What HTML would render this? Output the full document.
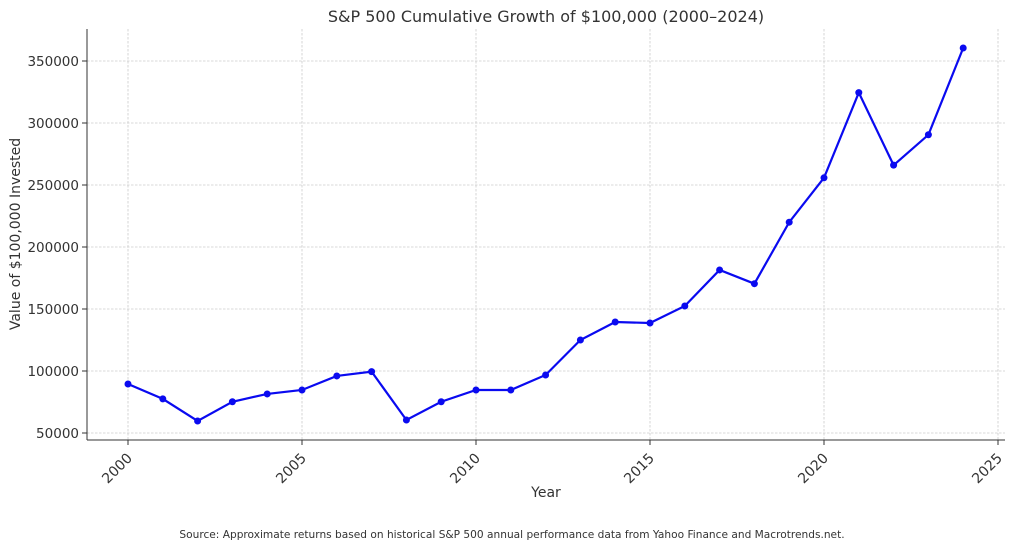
<!DOCTYPE html>
<html><head><meta charset="utf-8"><style>
body{margin:0;background:#fff;}
svg{display:block;font-family:"DejaVu Sans","Liberation Sans",sans-serif;}
</style></head><body>
<svg id="chart" width="1024" height="549" viewBox="0 0 1024 549" xmlns="http://www.w3.org/2000/svg">
<text x="546" y="22" text-anchor="middle" font-size="16" fill="#333">S&amp;P 500 Cumulative Growth of $100,000 (2000–2024)</text>
<g id="grid"></g>
<g id="axes"></g>
<g id="series"></g>
<text x="546" y="497" text-anchor="middle" font-size="14" fill="#333">Year</text>
<text x="20" y="234" text-anchor="middle" font-size="14" fill="#333" transform="rotate(-90 20 234)">Value of $100,000 Invested</text>
<text x="512" y="538" text-anchor="middle" font-size="10.6" fill="#333">Source: Approximate returns based on historical S&amp;P 500 annual performance data from Yahoo Finance and Macrotrends.net.</text>
</svg>
<script>
const years=[2000,2001,2002,2003,2004,2005,2006,2007,2008,2009,2010,2011,2012,2013,2014,2015,2016,2017,2018,2019,2020,2021,2022,2023,2024];
const values=[89500,77500,59700,75200,81500,84700,96000,99500,60500,75200,84700,84700,96800,125000,139500,138700,152400,181500,170400,220000,255800,324500,266000,290500,360500];
const xTicks=[2000,2005,2010,2015,2020,2025];
const yTicks=[50000,100000,150000,200000,250000,300000,350000];
const X0=87,X1=1005,Y0=29,Y1=440;
const xs=v=>128+(v-2000)*34.8;
const ys=v=>433-(v-50000)*0.00124;
const NS="http://www.w3.org/2000/svg";
function mk(t,a,p){const e=document.createElementNS(NS,t);for(const k in a)e.setAttribute(k,a[k]);p.appendChild(e);return e;}
const grid=document.getElementById('grid'),axes=document.getElementById('axes'),ser=document.getElementById('series');
xTicks.forEach(t=>{const x=xs(t);
const g=mk('line',{x1:x,x2:x,y1:Y0,y2:Y1,stroke:'#ccc','stroke-dasharray':'2.5,1.5','stroke-width':0.8},grid);


mk('line',{x1:x,x2:x,y1:Y1,y2:Y1+5,stroke:'#333'},axes);
const l=mk('text',{x:x+5,y:Y1+19,'text-anchor':'end','font-size':14,fill:'#333',transform:`rotate(-45 ${x+5} ${Y1+19})`},axes);
l.textContent=t;


});
yTicks.forEach(t=>{const y=ys(t);
const g=mk('line',{x1:X0,x2:X1,y1:y,y2:y,stroke:'#ccc','stroke-dasharray':'2.5,1.5','stroke-width':0.8},grid);


mk('line',{x1:X0-5,x2:X0,y1:y,y2:y,stroke:'#333'},axes);
const l=mk('text',{x:X0-8,y:y+5,'text-anchor':'end','font-size':13.5,fill:'#333'},axes);
l.textContent=t;


});
mk('line',{x1:X0,x2:X0,y1:Y0,y2:Y1,stroke:'#333'},axes);
mk('line',{x1:X0,x2:X1,y1:Y1,y2:Y1,stroke:'#333'},axes);
const pts=years.map((y,i)=>xs(y)+','+ys(values[i])).join(' ');
const pl=mk('polyline',{points:pts,fill:'none',stroke:'#0a0af0','stroke-width':2.2},ser);


years.forEach((y,i)=>{
const c=mk('circle',{cx:xs(y),cy:ys(values[i]),r:3.5,fill:'#0a0af0'},ser);


});
</script>
</body></html>
